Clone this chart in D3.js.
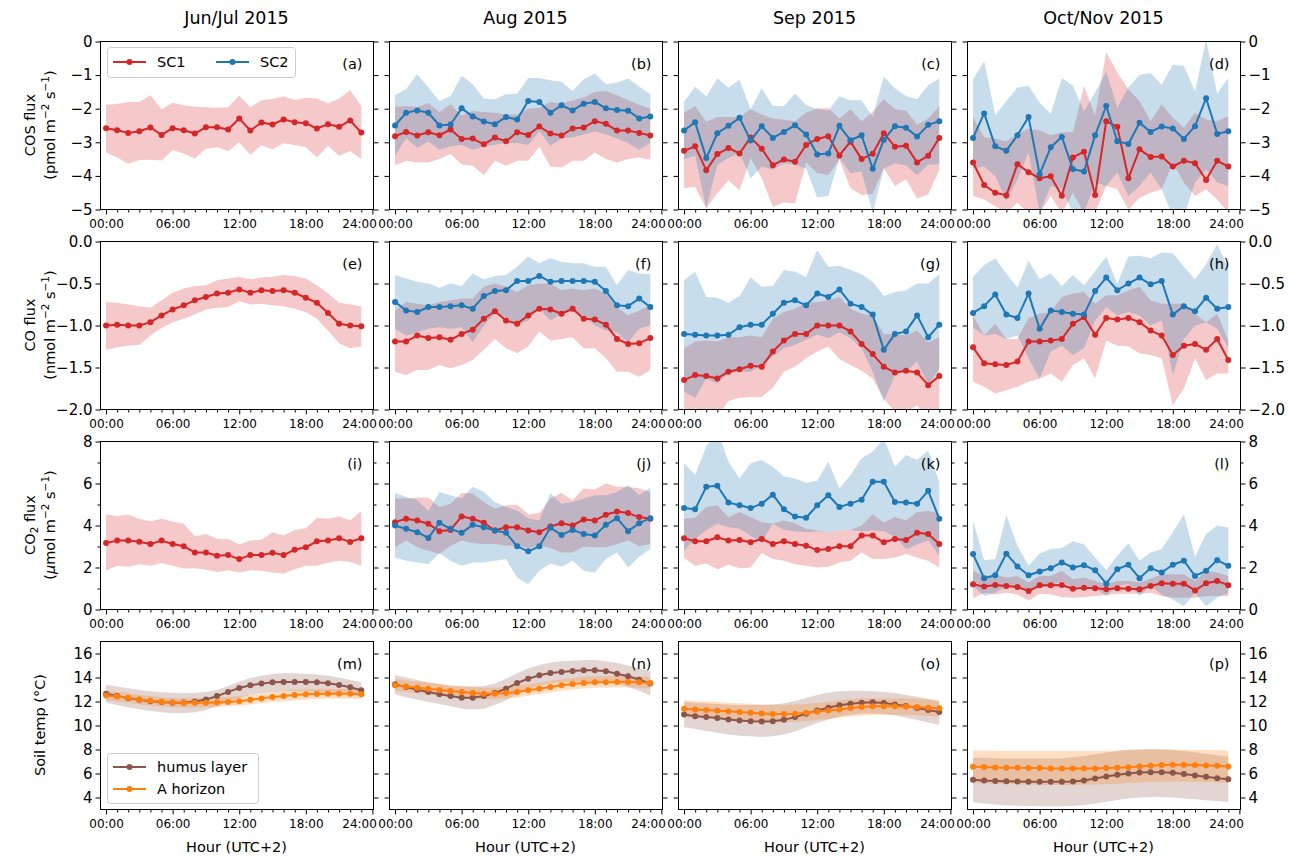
<!DOCTYPE html>
<html><head><meta charset="utf-8">
<script src="https://cdn.jsdelivr.net/npm/d3@7"></script>
<style>
body{margin:0;background:#fff}
svg{display:block}
text{font-family:"DejaVu Sans",sans-serif;fill:#000}
</style>
</head><body>
<svg id="chart" width="1289" height="857"></svg>
<script>
// ---------------- categories & tick labels ----------------
const hours = [0,1,2,3,4,5,6,7,8,9,10,11,12,13,14,15,16,17,18,19,20,21,22,23];
const colTitles = ["Jun/Jul 2015","Aug 2015","Sep 2015","Oct/Nov 2015"];
const panelLetters = ["a","b","c","d","e","f","g","h","i","j","k","l","m","n","o","p"];
const xMajorTicks = [0,6,12,18,24];
const xTickLabels = ["00:00","06:00","12:00","18:00","24:00"];
const xMinorTicks = [1,2,3,4,5,7,8,9,10,11,13,14,15,16,17,19,20,21,22,23];
const cosTicks = [0,-1,-2,-3,-4,-5];
const coTicks = [0,-0.5,-1,-1.5,-2];
const co2Ticks = [0,2,4,6,8];
const co2MinorTicks = [1,3,5,7];
const tempTicks = [4,6,8,10,12,14,16];

// ---------------- COS flux (pmol m-2 s-1) ----------------
const cosA_sc1 = [-2.58,-2.64,-2.72,-2.67,-2.56,-2.78,-2.58,-2.64,-2.74,-2.55,-2.55,-2.62,-2.29,-2.65,-2.41,-2.47,-2.32,-2.40,-2.43,-2.59,-2.46,-2.54,-2.35,-2.71];
const cosA_sc1_hi = [-1.88,-1.86,-1.80,-1.80,-1.60,-2.02,-1.82,-1.90,-1.94,-1.96,-1.97,-1.96,-1.61,-1.96,-1.75,-1.71,-1.63,-1.74,-1.68,-1.70,-1.84,-1.70,-1.45,-1.91];
const cosA_sc1_lo = [-3.30,-3.45,-3.64,-3.53,-3.52,-3.54,-3.24,-3.33,-3.48,-3.19,-3.15,-3.26,-3.00,-3.37,-3.09,-3.21,-3.03,-3.08,-3.15,-3.45,-3.10,-3.40,-3.26,-3.50];

const cosB_sc1 = [-2.82,-2.69,-2.80,-2.70,-2.79,-2.62,-2.90,-2.89,-3.06,-2.86,-2.97,-2.70,-2.78,-2.53,-2.74,-2.80,-2.59,-2.56,-2.37,-2.45,-2.65,-2.65,-2.72,-2.80];
const cosB_sc1_hi = [-1.95,-1.92,-1.95,-1.83,-2.10,-1.87,-2.20,-2.07,-2.10,-2.12,-2.17,-2.17,-2.00,-1.97,-1.80,-1.85,-1.75,-1.67,-1.50,-1.47,-1.60,-1.75,-1.88,-2.00];
const cosB_sc1_lo = [-3.68,-3.55,-3.60,-3.60,-3.50,-3.35,-3.65,-3.70,-3.98,-3.55,-3.70,-3.55,-3.55,-3.13,-3.72,-3.75,-3.55,-3.55,-3.30,-3.50,-3.60,-3.50,-3.45,-3.52];
const cosB_sc2 = [-2.50,-2.12,-2.05,-2.12,-2.50,-2.47,-1.99,-2.23,-2.38,-2.46,-2.25,-2.32,-1.77,-1.80,-2.12,-1.90,-2.05,-1.85,-1.80,-1.99,-2.04,-2.06,-2.29,-2.23];
const cosB_sc2_hi = [-1.59,-1.42,-0.97,-1.37,-1.77,-1.62,-1.02,-1.27,-1.70,-1.72,-1.57,-1.55,-1.09,-1.09,-1.15,-1.20,-1.47,-1.12,-0.95,-1.27,-1.22,-1.10,-1.34,-1.57];
const cosB_sc2_lo = [-3.40,-2.87,-3.17,-2.97,-3.22,-3.12,-3.07,-3.22,-3.12,-3.07,-3.02,-3.02,-3.07,-2.67,-3.10,-2.89,-2.85,-2.77,-2.67,-2.77,-2.89,-3.02,-3.22,-3.02];

const cosC_sc1 = [-3.25,-3.12,-3.83,-3.35,-3.17,-3.33,-2.86,-3.19,-3.68,-3.51,-3.58,-3.08,-2.90,-2.82,-3.39,-2.98,-3.50,-3.34,-2.73,-3.13,-3.10,-3.60,-3.40,-2.87];
const cosC_sc1_hi = [-2.12,-1.92,-2.39,-2.25,-2.25,-2.25,-2.02,-2.17,-2.29,-2.33,-2.37,-2.12,-1.99,-1.99,-2.29,-2.02,-2.37,-2.09,-1.72,-2.02,-2.05,-2.47,-2.30,-1.92];
const cosC_sc1_lo = [-4.37,-4.32,-4.97,-4.52,-4.14,-4.43,-3.47,-4.07,-4.92,-4.79,-4.82,-3.60,-3.92,-3.97,-3.52,-4.37,-4.57,-4.54,-3.77,-4.30,-4.10,-4.67,-4.55,-3.82];
const cosC_sc2 = [-2.65,-2.40,-3.47,-2.73,-2.51,-2.27,-2.95,-2.52,-2.87,-2.69,-2.49,-2.77,-3.36,-3.33,-2.51,-2.94,-2.79,-3.79,-2.93,-2.52,-2.57,-2.83,-2.48,-2.37];
const cosC_sc2_hi = [-1.79,-1.35,-1.63,-1.10,-1.37,-1.14,-2.02,-1.39,-1.92,-1.92,-1.55,-1.89,-2.02,-2.05,-1.63,-1.75,-1.75,-2.25,-1.04,-1.39,-1.62,-1.72,-1.30,-1.10];
const cosC_sc2_lo = [-3.51,-3.39,-4.97,-3.67,-3.47,-3.32,-4.07,-3.72,-3.82,-3.62,-3.67,-3.79,-4.64,-4.60,-3.47,-3.92,-3.87,-5.10,-3.79,-3.62,-3.69,-3.97,-3.67,-3.65];

const cosD_sc1 = [-3.60,-4.27,-4.50,-4.58,-3.65,-3.89,-4.07,-4.01,-4.59,-3.45,-3.28,-4.57,-2.37,-2.54,-4.07,-3.21,-3.44,-3.42,-3.72,-3.55,-3.62,-4.12,-3.55,-3.72];
const cosD_sc1_hi = [-2.25,-2.85,-2.89,-2.97,-2.75,-2.60,-2.65,-2.79,-2.70,-2.70,-1.32,-2.20,-0.32,-0.92,-1.42,-1.77,-2.37,-1.87,-2.27,-2.57,-2.12,-2.32,-2.37,-2.22];
const cosD_sc1_lo = [-4.60,-4.70,-4.90,-5.10,-4.80,-5.10,-5.10,-4.60,-5.10,-4.50,-5.10,-5.10,-4.30,-4.40,-5.00,-4.65,-4.50,-4.40,-3.60,-4.20,-4.60,-4.40,-4.70,-5.10];
const cosD_sc2 = [-2.87,-2.14,-3.12,-3.25,-2.79,-2.25,-3.95,-3.15,-2.84,-3.80,-3.87,-2.79,-1.92,-2.97,-3.05,-2.42,-2.69,-2.53,-2.59,-2.90,-2.52,-1.69,-2.75,-2.67];
const cosD_sc2_hi = [-1.12,-0.59,-2.19,-1.77,-1.37,-1.32,-1.82,-2.15,-1.09,-1.32,-2.07,-1.52,-0.89,-1.97,-1.37,-0.99,-0.94,-1.29,-0.69,-0.72,-1.49,0.05,-1.55,-1.09];
const cosD_sc2_lo = [-3.77,-3.72,-4.00,-4.75,-4.10,-3.30,-5.10,-4.30,-4.40,-5.10,-5.10,-4.20,-4.30,-3.90,-4.60,-4.30,-3.90,-4.40,-5.20,-5.20,-4.20,-3.80,-4.20,-4.30];

// ---------------- CO flux (nmol m-2 s-1) ----------------
const coE_sc1 = [-1.00,-0.99,-1.00,-1.00,-0.96,-0.88,-0.81,-0.76,-0.70,-0.66,-0.62,-0.61,-0.57,-0.61,-0.58,-0.59,-0.58,-0.61,-0.67,-0.73,-0.85,-0.98,-1.00,-1.01];
const coE_sc1_hi = [-0.72,-0.73,-0.75,-0.77,-0.79,-0.70,-0.61,-0.56,-0.53,-0.52,-0.46,-0.44,-0.42,-0.45,-0.43,-0.42,-0.40,-0.41,-0.44,-0.52,-0.62,-0.73,-0.75,-0.77];
const coE_sc1_lo = [-1.29,-1.26,-1.24,-1.23,-1.12,-1.03,-0.96,-0.92,-0.87,-0.81,-0.79,-0.78,-0.71,-0.75,-0.74,-0.76,-0.77,-0.80,-0.84,-0.92,-1.06,-1.21,-1.27,-1.25];

const coF_sc1 = [-1.19,-1.19,-1.12,-1.15,-1.14,-1.17,-1.10,-1.05,-0.92,-0.83,-0.94,-0.98,-0.88,-0.80,-0.81,-0.86,-0.80,-0.92,-0.93,-0.99,-1.16,-1.22,-1.21,-1.15];
const coF_sc1_hi = [-0.82,-0.72,-0.74,-0.76,-0.72,-0.70,-0.68,-0.68,-0.54,-0.50,-0.54,-0.60,-0.52,-0.50,-0.50,-0.58,-0.56,-0.58,-0.56,-0.62,-0.78,-0.88,-0.82,-0.76];
const coF_sc1_lo = [-1.55,-1.59,-1.53,-1.53,-1.47,-1.51,-1.47,-1.41,-1.29,-1.16,-1.27,-1.33,-1.25,-1.07,-1.18,-1.16,-1.14,-1.27,-1.27,-1.39,-1.55,-1.55,-1.61,-1.53];
const coF_sc2 = [-0.72,-0.82,-0.84,-0.78,-0.78,-0.77,-0.76,-0.80,-0.65,-0.59,-0.58,-0.47,-0.47,-0.41,-0.48,-0.47,-0.47,-0.47,-0.48,-0.59,-0.76,-0.77,-0.68,-0.78];
const coF_sc2_hi = [-0.40,-0.44,-0.48,-0.50,-0.55,-0.50,-0.53,-0.38,-0.45,-0.41,-0.40,-0.30,-0.18,-0.26,-0.20,-0.24,-0.26,-0.26,-0.30,-0.30,-0.52,-0.34,-0.38,-0.39];
const coF_sc2_lo = [-1.04,-1.12,-1.08,-1.04,-1.02,-1.04,-1.02,-1.20,-1.00,-0.86,-0.90,-1.00,-0.94,-0.80,-0.94,-0.86,-0.83,-0.88,-1.00,-1.06,-1.08,-1.20,-1.04,-1.00];

const coG_sc1 = [-1.65,-1.59,-1.60,-1.63,-1.55,-1.52,-1.48,-1.49,-1.31,-1.18,-1.10,-1.10,-1.00,-1.00,-1.00,-1.07,-1.22,-1.34,-1.49,-1.56,-1.54,-1.56,-1.71,-1.60];
const coG_sc1_hi = [-1.27,-1.19,-1.18,-1.19,-1.14,-1.14,-1.12,-1.14,-0.92,-0.84,-0.80,-0.73,-0.72,-0.70,-0.66,-0.80,-0.86,-0.88,-1.10,-1.10,-1.12,-1.06,-1.20,-1.14];
const coG_sc1_lo = [-2.20,-2.10,-2.05,-2.10,-1.90,-1.86,-1.85,-1.85,-1.74,-1.55,-1.49,-1.39,-1.31,-1.25,-1.40,-1.47,-1.54,-1.63,-1.87,-2.03,-2.03,-1.95,-2.10,-2.05];
const coG_sc2 = [-1.10,-1.11,-1.12,-1.12,-1.11,-1.02,-0.99,-0.99,-0.86,-0.73,-0.70,-0.76,-0.62,-0.66,-0.57,-0.74,-0.78,-0.87,-1.29,-1.10,-1.07,-0.88,-1.14,-0.99];
const coG_sc2_hi = [-0.46,-0.36,-0.66,-0.67,-0.73,-0.65,-0.43,-0.54,-0.53,-0.34,-0.36,-0.42,-0.10,-0.30,-0.29,-0.34,-0.39,-0.48,-0.65,-0.60,-0.58,-0.50,-0.50,-0.39];
const coG_sc2_lo = [-1.79,-1.86,-1.63,-1.69,-1.57,-1.55,-1.55,-1.47,-1.37,-1.27,-1.23,-1.17,-1.11,-1.15,-1.08,-1.15,-1.27,-1.55,-1.91,-1.59,-1.55,-1.43,-1.71,-1.51];

const coH_sc1 = [-1.26,-1.45,-1.46,-1.47,-1.43,-1.19,-1.19,-1.18,-1.16,-0.98,-0.90,-1.11,-0.91,-0.93,-0.91,-0.96,-1.06,-1.12,-1.35,-1.24,-1.22,-1.29,-1.16,-1.41];
const coH_sc1_hi = [-0.88,-1.12,-0.98,-1.16,-1.16,-0.91,-0.86,-0.84,-0.66,-0.62,-0.60,-0.74,-0.64,-0.64,-0.58,-0.54,-0.70,-0.74,-0.74,-0.74,-0.86,-0.96,-0.86,-1.18];
const coH_sc1_lo = [-1.67,-1.73,-1.81,-1.77,-1.73,-1.67,-1.63,-1.57,-1.67,-1.47,-1.39,-1.63,-1.18,-1.24,-1.25,-1.33,-1.35,-1.39,-1.95,-1.75,-1.39,-1.65,-1.57,-1.57];
const coH_sc2 = [-0.85,-0.77,-0.63,-0.87,-0.91,-0.62,-1.04,-0.82,-0.84,-0.86,-0.87,-0.59,-0.43,-0.58,-0.50,-0.43,-0.51,-0.47,-0.87,-0.77,-0.83,-0.67,-0.80,-0.78];
const coH_sc2_hi = [-0.42,-0.28,-0.20,-0.38,-0.55,-0.23,-0.45,-0.38,-0.53,-0.40,-0.52,-0.35,-0.18,-0.50,-0.18,-0.17,-0.20,-0.13,-0.14,-0.30,-0.45,-0.27,-0.03,-0.32];
const coH_sc2_lo = [-1.02,-1.12,-1.10,-1.16,-1.12,-1.39,-1.63,-1.31,-1.24,-1.35,-1.27,-0.94,-0.78,-0.88,-0.84,-0.88,-1.00,-0.94,-1.59,-1.16,-1.00,-0.96,-1.04,-1.27];

// ---------------- CO2 flux (umol m-2 s-1) ----------------
const co2I_sc1 = [3.17,3.28,3.28,3.23,3.12,3.28,3.12,3.01,2.72,2.72,2.56,2.59,2.40,2.59,2.59,2.70,2.59,2.85,2.96,3.25,3.28,3.39,3.22,3.39];
const co2I_sc1_hi = [4.53,4.45,4.51,4.32,4.19,4.32,4.19,4.08,3.49,3.60,3.36,3.36,3.09,3.28,3.33,3.68,3.52,3.79,3.87,4.37,4.32,4.43,4.24,4.69];
const co2I_sc1_lo = [1.84,2.08,2.03,2.16,2.08,2.21,2.08,1.95,1.97,1.89,1.79,1.87,1.76,1.87,1.84,1.76,1.71,1.92,2.08,2.08,2.24,2.32,2.27,2.08];

const co2J_sc1 = [4.16,4.32,4.24,4.08,3.73,3.79,4.43,4.32,4.13,3.76,3.92,3.92,3.76,3.68,3.95,4.11,4.00,4.29,4.24,4.51,4.67,4.59,4.40,4.32];
const co2J_sc1_hi = [5.28,5.28,5.33,5.33,4.88,5.04,5.55,5.52,5.12,4.80,4.96,4.99,4.53,4.59,5.28,5.55,5.20,5.76,5.71,6.00,5.84,5.84,5.76,5.60];
const co2J_sc1_lo = [2.96,3.28,2.96,2.80,2.64,3.04,3.28,3.17,3.12,3.12,3.04,3.04,2.93,3.04,2.93,2.72,2.72,2.99,2.96,2.96,3.12,3.28,3.01,3.12];
const co2J_sc2 = [4.00,3.84,3.68,3.41,4.13,3.84,3.65,4.03,3.92,3.76,3.65,3.01,2.77,3.01,3.89,3.55,3.79,3.60,3.52,4.03,4.35,3.73,4.11,4.35];
const co2J_sc2_hi = [5.55,5.36,5.20,4.69,5.60,5.44,5.28,5.84,5.60,5.12,4.88,4.72,4.35,4.24,5.52,5.04,5.12,5.28,5.44,5.44,5.60,5.92,5.44,5.81];
const co2J_sc2_lo = [2.48,2.32,2.24,2.16,2.69,2.32,2.08,2.24,2.24,2.32,2.40,1.52,1.20,1.84,2.19,2.03,2.32,1.84,1.76,2.40,2.72,2.00,2.51,2.88];

const co2K_sc1 = [3.39,3.25,3.25,3.44,3.28,3.31,3.20,3.36,3.12,3.25,3.12,3.04,2.83,2.88,3.01,3.01,3.52,3.52,3.20,3.36,3.31,3.65,3.60,3.12];
const co2K_sc1_hi = [4.32,4.37,4.88,4.96,4.40,4.64,4.40,4.16,4.08,4.24,4.11,3.84,3.76,3.68,3.76,3.79,4.00,4.53,4.13,4.40,4.24,4.64,4.69,4.56];
const co2K_sc1_lo = [2.45,2.08,2.19,1.92,2.13,1.97,2.00,2.69,2.40,2.32,2.16,2.08,2.00,2.03,2.24,2.32,2.72,2.40,2.40,2.48,2.64,2.48,2.32,2.00];
const co2K_sc2 = [4.83,4.77,5.84,5.89,5.09,4.96,4.83,5.04,5.47,4.77,4.43,4.37,4.96,5.44,4.88,5.04,5.23,6.08,6.08,5.12,5.09,5.04,5.65,4.32];
const co2K_sc2_hi = [6.96,6.40,7.76,8.56,7.04,6.24,6.96,7.12,6.80,6.35,6.24,6.03,6.13,7.04,5.76,6.40,7.20,7.52,8.16,6.80,7.36,7.12,7.57,6.08];
const co2K_sc2_lo = [2.80,3.36,3.79,4.08,3.92,3.84,3.52,3.20,4.08,3.79,3.73,3.68,3.73,3.68,3.76,3.79,3.73,3.76,3.73,3.47,2.88,3.09,3.28,2.56];

const co2L_sc1 = [1.20,1.09,1.17,1.12,1.07,0.88,1.15,1.15,1.17,0.99,1.04,1.01,0.96,1.01,0.99,0.96,1.12,1.25,1.23,1.23,0.91,1.25,1.36,1.15];
const co2L_sc1_hi = [1.84,1.60,1.65,1.52,1.60,1.28,1.60,1.60,1.84,1.44,1.52,1.36,1.23,1.36,1.36,1.28,1.47,1.68,1.68,1.68,1.36,1.84,1.76,1.60];
const co2L_sc1_lo = [0.53,0.80,0.72,0.80,0.72,0.43,0.75,0.72,0.59,0.56,0.59,0.64,0.69,0.75,0.75,0.75,0.80,0.64,0.56,0.56,0.56,0.64,0.64,0.64];
const co2L_sc2 = [2.64,1.49,1.63,2.66,2.05,1.63,1.81,1.97,2.24,2.00,2.11,1.87,1.23,1.92,2.13,1.49,1.97,1.76,2.13,2.32,1.60,1.84,2.35,2.08];
const co2L_sc2_hi = [4.24,2.35,2.40,4.48,3.04,2.08,2.67,2.88,2.93,3.25,3.09,2.48,1.87,2.56,3.15,2.32,2.72,2.88,3.68,4.53,2.51,3.60,4.00,3.89];
const co2L_sc2_lo = [1.12,0.64,0.80,1.12,1.04,0.96,1.04,1.12,1.36,1.04,1.12,1.04,0.64,1.12,1.23,0.64,1.12,0.72,0.48,0.16,0.80,0.16,0.56,0.80];

// ---------------- Soil temperature (deg C) ----------------
const tM_humus = [12.65,12.45,12.28,12.15,12.03,11.95,11.90,11.92,12.00,12.17,12.45,12.80,13.12,13.35,13.49,13.60,13.63,13.63,13.63,13.60,13.52,13.37,13.18,12.93];
const tM_humus_hi = [13.40,13.25,13.10,12.95,12.85,12.78,12.72,12.70,12.72,12.80,12.95,13.30,13.65,13.95,14.15,14.30,14.35,14.35,14.30,14.25,14.15,14.00,13.80,13.60];
const tM_humus_lo = [11.90,11.70,11.50,11.35,11.20,11.10,11.05,11.05,11.10,11.30,11.60,11.95,12.30,12.55,12.70,12.80,12.85,12.85,12.85,12.80,12.75,12.70,12.60,12.40];
const tM_ahor = [12.50,12.42,12.31,12.17,12.06,11.98,11.92,11.90,11.90,11.90,11.92,11.95,12.03,12.15,12.26,12.37,12.45,12.54,12.60,12.62,12.65,12.65,12.65,12.60];
const tM_ahor_hi = [12.90,12.80,12.70,12.55,12.45,12.35,12.30,12.28,12.28,12.30,12.32,12.38,12.45,12.55,12.68,12.80,12.90,12.98,13.02,13.05,13.05,13.05,13.05,13.02];
const tM_ahor_lo = [12.10,12.00,11.90,11.78,11.66,11.58,11.52,11.50,11.50,11.52,11.55,11.60,11.65,11.75,11.85,11.95,12.00,12.10,12.15,12.20,12.22,12.22,12.22,12.20];

const tN_humus = [13.43,13.20,12.98,12.79,12.60,12.45,12.31,12.31,12.45,12.70,13.07,13.54,13.90,14.18,14.38,14.46,14.55,14.60,14.60,14.52,14.32,14.10,13.82,13.49];
const tN_humus_hi = [14.20,14.00,13.80,13.60,13.45,13.30,13.25,13.25,13.30,13.50,13.90,14.35,14.75,15.05,15.25,15.35,15.40,15.45,15.45,15.35,15.20,15.00,14.75,14.50];
const tN_humus_lo = [12.60,12.35,12.15,11.95,11.80,11.60,11.40,11.35,11.40,11.70,12.10,12.60,13.00,13.30,13.50,13.60,13.65,13.70,13.70,13.65,13.45,13.20,12.90,12.50];
const tN_ahor = [13.35,13.26,13.15,13.07,12.96,12.87,12.79,12.70,12.65,12.65,12.70,12.79,12.93,13.07,13.20,13.35,13.46,13.54,13.60,13.60,13.63,13.63,13.60,13.54];
const tN_ahor_hi = [13.85,13.76,13.65,13.57,13.46,13.37,13.29,13.20,13.15,13.15,13.20,13.29,13.43,13.57,13.70,13.85,13.96,14.04,14.10,14.10,14.13,14.13,14.10,14.04];
const tN_ahor_lo = [12.90,12.81,12.70,12.62,12.51,12.42,12.34,12.25,12.20,12.20,12.25,12.34,12.48,12.62,12.75,12.90,13.01,13.09,13.15,13.15,13.18,13.18,13.15,13.09];

const tO_humus = [10.91,10.78,10.70,10.62,10.50,10.42,10.36,10.34,10.36,10.47,10.70,10.98,11.26,11.48,11.68,11.82,11.90,11.93,11.87,11.76,11.62,11.46,11.29,11.12];
const tO_humus_hi = [11.95,11.90,11.85,11.80,11.75,11.70,11.70,11.70,11.75,11.85,12.05,12.30,12.55,12.75,12.85,12.90,12.90,12.85,12.80,12.70,12.55,12.40,12.20,12.00];
const tO_humus_lo = [9.85,9.70,9.55,9.40,9.25,9.15,9.10,9.05,9.10,9.25,9.50,9.85,10.20,10.50,10.75,10.90,11.00,11.00,10.95,10.85,10.65,10.45,10.25,10.05];
const tO_ahor = [11.39,11.34,11.29,11.23,11.18,11.12,11.07,11.01,10.96,10.96,10.98,11.07,11.15,11.26,11.34,11.46,11.54,11.60,11.60,11.60,11.57,11.54,11.48,11.43];
const tO_ahor_hi = [12.10,12.05,12.00,11.95,11.90,11.85,11.80,11.75,11.72,11.72,11.75,11.80,11.88,11.98,12.08,12.18,12.25,12.28,12.28,12.28,12.25,12.22,12.18,12.12];
const tO_ahor_lo = [10.70,10.65,10.60,10.55,10.50,10.45,10.38,10.32,10.28,10.28,10.30,10.35,10.45,10.55,10.65,10.75,10.82,10.88,10.90,10.90,10.88,10.85,10.80,10.75];

const tP_humus = [5.47,5.41,5.38,5.36,5.34,5.32,5.32,5.32,5.32,5.34,5.41,5.58,5.75,5.89,6.00,6.08,6.11,6.11,6.06,5.95,5.83,5.72,5.61,5.53];
const tP_humus_hi = [7.30,7.30,7.28,7.26,7.25,7.24,7.24,7.25,7.28,7.35,7.45,7.60,7.75,7.88,7.97,8.02,8.04,8.02,7.97,7.88,7.78,7.65,7.52,7.42];
const tP_humus_lo = [3.60,3.50,3.42,3.36,3.32,3.30,3.28,3.27,3.27,3.30,3.38,3.50,3.65,3.80,3.92,4.00,4.05,4.05,4.00,3.92,3.85,3.78,3.70,3.62];
const tP_ahor = [6.56,6.54,6.50,6.48,6.48,6.45,6.45,6.42,6.42,6.42,6.42,6.42,6.45,6.48,6.53,6.59,6.64,6.70,6.73,6.73,6.70,6.67,6.64,6.59];
const tP_ahor_hi = [7.92,7.92,7.90,7.90,7.88,7.88,7.87,7.87,7.87,7.87,7.87,7.88,7.90,7.92,7.94,7.96,7.98,7.98,7.98,7.97,7.96,7.95,7.94,7.93];
const tP_ahor_lo = [5.20,5.18,5.15,5.12,5.10,5.08,5.06,5.05,5.05,5.05,5.06,5.08,5.10,5.15,5.20,5.25,5.30,5.32,5.33,5.32,5.30,5.28,5.25,5.22];

// ---------------- y-axis label pieces (text, superscript flag) ----------------
const cosUnit = [["(pmol m",0],["\u22122",1],[" s",0],["\u22121",1],[")",0]];
const coUnit  = [["(nmol m",0],["\u22122",1],[" s",0],["\u22121",1],[")",0]];
const co2Unit = [["(",0],["\u03BC",2],["mol m",0],["\u22122",1],[" s",0],["\u22121",1],[")",0]];

// ---------------- build panel table ----------------
const C = {sc1:"#d62728", sc2:"#1f77b4", humus:"#8c564b", ahor:"#ff7f0e"};
const S = (mean, lo, hi, color) => ({mean, lo, hi, color});
const panelSeries = [
  [S(cosA_sc1,cosA_sc1_lo,cosA_sc1_hi,C.sc1)],
  [S(cosB_sc1,cosB_sc1_lo,cosB_sc1_hi,C.sc1), S(cosB_sc2,cosB_sc2_lo,cosB_sc2_hi,C.sc2)],
  [S(cosC_sc1,cosC_sc1_lo,cosC_sc1_hi,C.sc1), S(cosC_sc2,cosC_sc2_lo,cosC_sc2_hi,C.sc2)],
  [S(cosD_sc1,cosD_sc1_lo,cosD_sc1_hi,C.sc1), S(cosD_sc2,cosD_sc2_lo,cosD_sc2_hi,C.sc2)],
  [S(coE_sc1,coE_sc1_lo,coE_sc1_hi,C.sc1)],
  [S(coF_sc1,coF_sc1_lo,coF_sc1_hi,C.sc1), S(coF_sc2,coF_sc2_lo,coF_sc2_hi,C.sc2)],
  [S(coG_sc1,coG_sc1_lo,coG_sc1_hi,C.sc1), S(coG_sc2,coG_sc2_lo,coG_sc2_hi,C.sc2)],
  [S(coH_sc1,coH_sc1_lo,coH_sc1_hi,C.sc1), S(coH_sc2,coH_sc2_lo,coH_sc2_hi,C.sc2)],
  [S(co2I_sc1,co2I_sc1_lo,co2I_sc1_hi,C.sc1)],
  [S(co2J_sc1,co2J_sc1_lo,co2J_sc1_hi,C.sc1), S(co2J_sc2,co2J_sc2_lo,co2J_sc2_hi,C.sc2)],
  [S(co2K_sc1,co2K_sc1_lo,co2K_sc1_hi,C.sc1), S(co2K_sc2,co2K_sc2_lo,co2K_sc2_hi,C.sc2)],
  [S(co2L_sc1,co2L_sc1_lo,co2L_sc1_hi,C.sc1), S(co2L_sc2,co2L_sc2_lo,co2L_sc2_hi,C.sc2)],
  [S(tM_humus,tM_humus_lo,tM_humus_hi,C.humus), S(tM_ahor,tM_ahor_lo,tM_ahor_hi,C.ahor)],
  [S(tN_humus,tN_humus_lo,tN_humus_hi,C.humus), S(tN_ahor,tN_ahor_lo,tN_ahor_hi,C.ahor)],
  [S(tO_humus,tO_humus_lo,tO_humus_hi,C.humus), S(tO_ahor,tO_ahor_lo,tO_ahor_hi,C.ahor)],
  [S(tP_humus,tP_humus_lo,tP_humus_hi,C.humus), S(tP_ahor,tP_ahor_lo,tP_ahor_hi,C.ahor)]
];

const rows = [
  {domain:[-5,0], ticks:cosTicks, minor:[], fmt:d3.format("d"), label:[[["COS flux",0]], cosUnit]},
  {domain:[-2,0], ticks:coTicks, minor:[], fmt:d3.format(".1f"), label:[[["CO flux",0]], coUnit]},
  {domain:[0,8], ticks:co2Ticks, minor:co2MinorTicks, fmt:d3.format("d"), label:[[["CO",0],["2",3],[" flux",0]], co2Unit]},
  {domain:[3,17], ticks:tempTicks, minor:[], fmt:d3.format("d"), label:[[["Soil temp (\u00B0C)",0]]]}
];

// ---------------- layout ----------------
const W = 273, H = 168;
const colX = [100, 389, 678, 967];
const rowY = [41, 241, 441, 641];
const FONT = "DejaVu Sans";

const svg = d3.select("#chart");
const defs = svg.append("defs");
const x = d3.scaleLinear().domain([-0.5, 24.1]).range([0, W]);

colTitles.forEach((t, c) => {
  svg.append("text").attr("x", colX[c] + W/2).attr("y", 24)
    .attr("text-anchor","middle").attr("font-size", 17.5).text(t);
});

function richText(sel, pieces) {
  let shift = 0;
  pieces.forEach(([t, kind]) => {
    const ts = sel.append("tspan").text(t);
    let target = 0;
    if (kind === 1) { ts.attr("font-size", 10.5); target = -6; }
    else if (kind === 3) { ts.attr("font-size", 10.5); target = 3; }
    else if (kind === 2) { ts.attr("font-style", "italic"); }
    ts.attr("dy", target - shift);
    shift = target;
  });
}

for (let r = 0; r < 4; r++) {
  const rc = rows[r];
  const y = d3.scaleLinear().domain(rc.domain).range([H, 0]);

  const lx = rc.label.length === 2 ? [35, 55] : [45];
  rc.label.forEach((pieces, i) => {
    const t = svg.append("text")
      .attr("transform", `translate(${lx[i]},${rowY[r] + H/2}) rotate(-90)`)
      .attr("text-anchor","middle").attr("font-size", 14.5);
    richText(t, pieces);
  });

  for (let c = 0; c < 4; c++) {
    const idx = r*4 + c;
    const g = svg.append("g").attr("transform", `translate(${colX[c]+0.5},${rowY[r]+0.5})`);
    const clipId = "clip" + idx;
    defs.append("clipPath").attr("id", clipId).append("rect")
      .attr("x", 0).attr("y", 0).attr("width", W).attr("height", H);

    const plot = g.append("g").attr("clip-path", `url(#${clipId})`);
    const series = panelSeries[idx];

    series.forEach(s => {
      const area = d3.area().x((d,i) => x(hours[i])).y0((d,i) => y(s.lo[i])).y1((d,i) => y(s.hi[i]));
      plot.append("path").datum(s.mean).attr("d", area)
        .attr("fill", s.color).attr("fill-opacity", 0.25).attr("stroke","none");
    });
    series.forEach(s => {
      const line = d3.line().x((d,i) => x(hours[i])).y(d => y(d));
      plot.append("path").datum(s.mean).attr("d", line)
        .attr("fill","none").attr("stroke", s.color).attr("stroke-width", 2).attr("stroke-linejoin","round");
      plot.append("g").selectAll("circle").data(s.mean).join("circle")
        .attr("cx", (d,i) => x(hours[i])).attr("cy", d => y(d)).attr("r", 3)
        .attr("fill", s.color);
    });

    const styleAxis = a => {
      a.select(".domain").remove();
      a.attr("font-family", FONT);
      a.selectAll("line").attr("stroke","#000").attr("stroke-width",1);
      a.selectAll("text").attr("fill","#000");
    };
    g.append("g").call(d3.axisLeft(y).tickValues(rc.ticks).tickSize(5).tickPadding(3)
        .tickFormat(c === 0 ? rc.fmt : () => ""))
      .call(styleAxis).attr("font-size", 15);
    g.append("g").attr("transform", `translate(${W},0)`)
      .call(d3.axisRight(y).tickValues(rc.ticks).tickSize(5).tickPadding(3)
        .tickFormat(c === 3 ? rc.fmt : () => ""))
      .call(styleAxis).attr("font-size", 15);
    if (rc.minor.length) {
      g.append("g").call(d3.axisLeft(y).tickValues(rc.minor).tickSize(3).tickFormat(() => "")).call(styleAxis);
      g.append("g").attr("transform", `translate(${W},0)`)
        .call(d3.axisRight(y).tickValues(rc.minor).tickSize(3).tickFormat(() => "")).call(styleAxis);
    }
    const xa = g.append("g").attr("transform", `translate(0,${H})`)
      .call(d3.axisBottom(x).tickValues(xMajorTicks).tickSize(5).tickPadding(5)
        .tickFormat((d,i) => xTickLabels[i]))
      .call(styleAxis).attr("font-size", 12);
    // last label ("24:00") sits flush left of its tick, as in the reference
    xa.selectAll(".tick").filter(d => d === 24).select("text")
      .attr("text-anchor","end").attr("dx", 4);
    g.append("g").attr("transform", `translate(0,${H})`)
      .call(d3.axisBottom(x).tickValues(xMinorTicks).tickSize(3).tickFormat(() => ""))
      .call(styleAxis);

    g.append("rect").attr("width", W).attr("height", H)
      .attr("fill","none").attr("stroke","#000").attr("stroke-width",1);

    g.append("text").attr("x", W - 11).attr("y", 27).attr("text-anchor","end")
      .attr("font-size", 14.5).text(`(${panelLetters[idx]})`);

    if (r === 3) {
      svg.append("text").attr("x", colX[c] + W/2).attr("y", 852)
        .attr("text-anchor","middle").attr("font-size", 14.5).text("Hour (UTC+2)");
    }
  }
}

// ---------------- legends ----------------
function legend(x0, y0, w, h, items, horizontal) {
  const g = svg.append("g");
  g.append("rect").attr("x", x0+0.5).attr("y", y0+0.5).attr("width", w).attr("height", h)
    .attr("rx", 3).attr("fill","#fff").attr("fill-opacity",0.8).attr("stroke","#cccccc").attr("stroke-width",1);
  items.forEach((it, i) => {
    const ox = horizontal ? x0 + 6 + i*103 : x0 + 6;
    const oy = horizontal ? y0 + 15 : y0 + 14 + i*22;
    g.append("line").attr("x1", ox).attr("x2", ox + 33).attr("y1", oy).attr("y2", oy)
      .attr("stroke", it.color).attr("stroke-width", 2);
    g.append("circle").attr("cx", ox + 16.5).attr("cy", oy).attr("r", 3).attr("fill", it.color);
    g.append("text").attr("x", ox + 44).attr("y", oy).attr("dy","0.35em")
      .attr("font-size", 14.5).text(it.name);
  });
}
legend(107, 47, 188, 30, [{name:"SC1", color:C.sc1},{name:"SC2", color:C.sc2}], true);
legend(107, 753, 151, 50, [{name:"humus layer", color:C.humus},{name:"A horizon", color:C.ahor}], false);
</script>
</body></html>
